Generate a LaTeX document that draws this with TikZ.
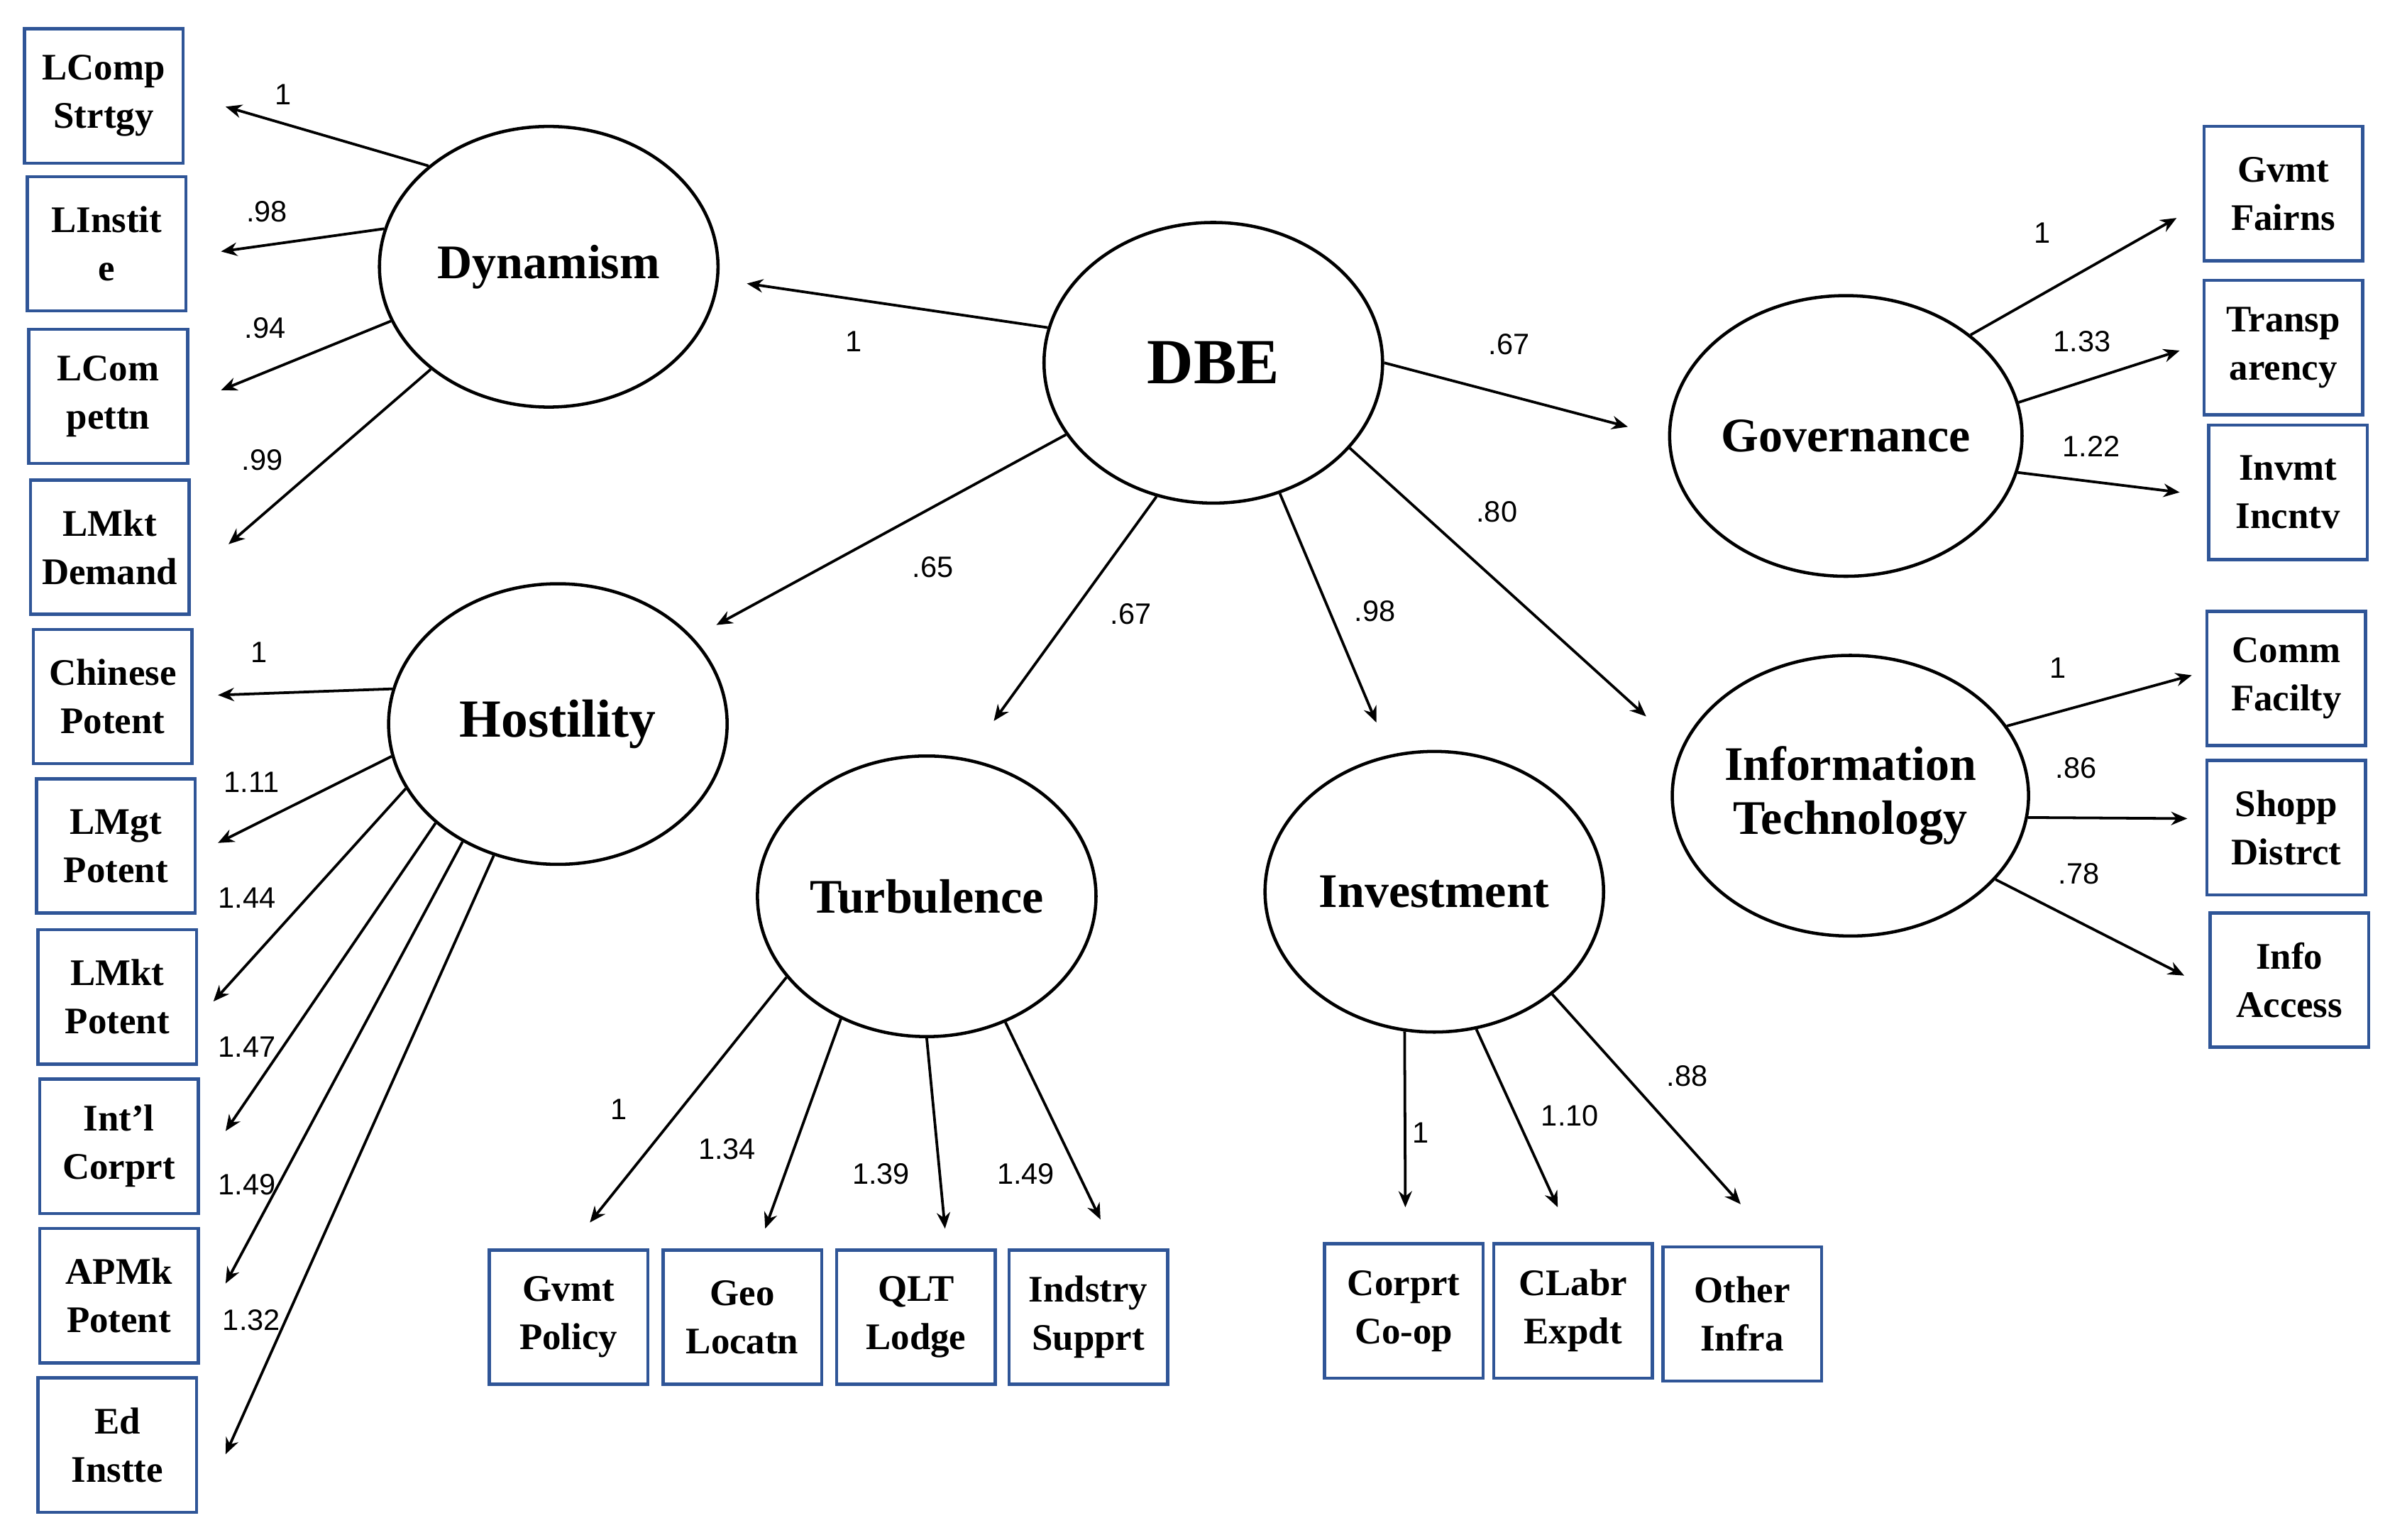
\documentclass[tikz,border=0pt]{standalone}
\usepackage{fontspec}
\setmainfont{Liberation Serif}
\newfontfamily\lblfont{Liberation Sans}
\usetikzlibrary{shapes.geometric,arrows.meta}
\definecolor{boxblue}{HTML}{2F5597}
\begin{document}
\begin{tikzpicture}[x=0.01cm,y=-0.01cm,
  lat/.style={ellipse,draw,line width=0.6pt,minimum width=222\pgflinewidth,inner sep=0pt,font=\bfseries\fontsize{9}{10}\selectfont},
  box/.style={draw=boxblue,line width=0.6pt,minimum width=104*0.2845pt,minimum height=88*0.2845pt,inner sep=0pt,align=center,font=\bfseries\fontsize{7}{9}\selectfont},
  arr/.style={-{Stealth[length=3pt,width=2.5pt]},line width=0.5pt},
  lbl/.style={font=\lblfont\fontsize{5.5}{6}\selectfont}]
\useasboundingbox (0,0) rectangle (1568,1010);
\tikzset{ell/.style={lat,minimum width=222*0.2845pt,minimum height=184*0.2845pt}}
% latent
\node[ell] (Dyn) at (360,175) {Dynamism};
\node[ell,font=\bfseries\fontsize{12}{13}\selectfont] (DBE) at (796,238) {DBE};
\node[ell] (Gov) at (1211,286) {Governance};
\node[ell,font=\bfseries\fontsize{10}{11}\selectfont] (Host) at (366,475) {Hostility};
\node[ell] (Turb) at (608,588) {Turbulence};
\node[ell] (Inv) at (941,585) {Investment};
\node[ell,align=center,font=\bfseries\fontsize{9}{10}\selectfont] (IT) at (1214,522) {Information\\Technology};
% left boxes
\node[box] (b1) at (68,63) {LComp\\Strtgy};
\node[box] (b2) at (70,160) {LInstit\\e};
\node[box] (b3) at (71,260) {LCom\\pettn};
\node[box] (b4) at (72,359) {LMkt\\Demand};
\node[box] (b5) at (74,457) {Chinese\\Potent};
\node[box] (b6) at (76,555) {LMgt\\Potent};
\node[box] (b7) at (77,654) {LMkt\\Potent};
\node[box] (b8) at (78,752) {Int'l\\Corprt};
\node[box] (b9) at (78,850) {APMk\\Potent};
\node[box] (b10) at (77,948) {Ed\\Instte};
% right boxes
\node[box] (r1) at (1498,127) {Gvmt\\Fairns};
\node[box] (r2) at (1498,228) {Transp\\arency};
\node[box] (r3) at (1501,323) {Invmt\\Incntv};
\node[box] (r4) at (1500,445) {Comm\\Facilty};
\node[box] (r5) at (1500,543) {Shopp\\Distrct};
\node[box] (r6) at (1502,643) {Info\\Access};
% bottom boxes
\node[box] (t1) at (373,864) {Gvmt\\Policy};
\node[box] (t2) at (487,864) {Geo\\Locatn};
\node[box] (t3) at (601,864) {QLT\\Lodge};
\node[box] (t4) at (714,864) {Indstry\\Supprt};
\node[box] (i1) at (921,860) {Corprt\\Co-op};
\node[box] (i2) at (1032,860) {CLabr\\Expdt};
\node[box] (i3) at (1143,862) {Other\\Infra};
% arrow ends
\foreach \n/\x/\y in {e1/148/70,e2/145/165,e3/145/256,e4/150/357,
  f1/490/186,f2/1068/280,f3/470/410,f4/652/473,f5/903/474,f6/1080/470,
  g1/1428/143,g2/1430/230,g3/1430/323,
  h1/1438/443,h2/1435/537,h3/1433/640,
  k1/143/456,k2/143/553,k3/140/657,k4/148/742,k5/148/842,k6/148/954,
  m1/387/802,m2/502/806,m3/620/806,m4/722/800,
  n1/922/792,n2/1022/792,n3/1142/790}
  \coordinate (\n) at (\x,\y);
% arrows
\foreach \s/\a/\e/\l/\lx/\ly in {
  Dyn/140/e1/1/186/62, Dyn/167/e2/.98/175/139, Dyn/199/e3/.94/174/215, Dyn/221/e4/.99/172/302,
  DBE/168/f1/1/560/224, DBE/0/f2/.67/990/226, DBE/206/f3/.65/612/372, DBE/247/f4/.67/742/403,
  DBE/297/f5/.98/902/401, DBE/328/f6/.80/982/336,
  Gov/39/g1/1/1340/153, Gov/11/g2/1.33/1366/224, Gov/-12/g3/1.22/1372/293,
  IT/24/h1/1/1350/438, IT/-7/h2/.86/1362/504, IT/-30/h3/.78/1364/573,
  Host/168/k1/1/170/428, Host/191.5/k2/1.11/165/513, Host/203/k3/1.44/162/589,
  Host/219/k4/1.47/162/687, Host/231.5/k5/1.49/162/777, Host/244.8/k6/1.32/165/866,
  Turb/210/m1/1/406/728, Turb/235/m2/1.34/477/754, Turb/270/m3/1.39/578/770, Turb/302/m4/1.49/673/770,
  Inv/258/n1/1/932/743, Inv/287/n2/1.10/1030/732, Inv/319/n3/.88/1107/706}
  {\draw[arr] (\s.\a) -- (\e);
   \node[lbl] at (\lx,\ly) {\l};}
\end{tikzpicture}
\end{document}
